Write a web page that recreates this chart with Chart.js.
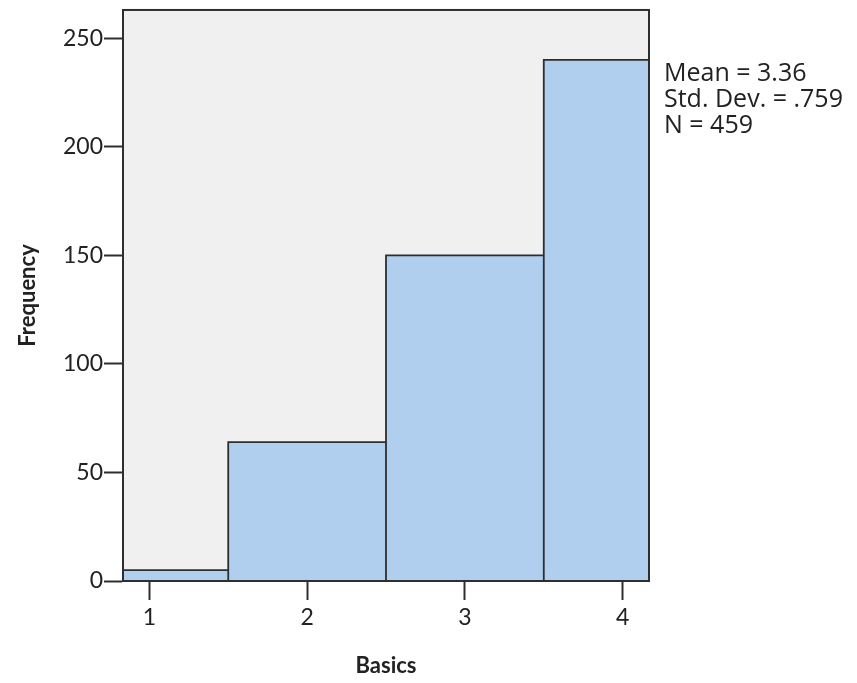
<!DOCTYPE html>
<html>
<head>
<meta charset="utf-8">
<script src="https://cdn.jsdelivr.net/npm/chart.js@4/dist/chart.umd.min.js"></script>
<style>
  html,body{margin:0;padding:0;background:#fff}
  #wrap{width:857px;height:683px;position:relative}
</style>
</head>
<body>
<div id="wrap"><canvas id="hist"></canvas></div>
<script>
(function(){
  'use strict';

  /* ── Histogram data ── */
  const scoreValues=[1,2,3,4];
  const frequencies=[5,64,150,240];
  const binEdges=[0.833,1.5,2.5,3.5,4.167];
  const xTicks=[1,2,3,4];
  const yTicks=[0,50,100,150,200,250];
  const yMax=263;

  /* summary stats from the counts */
  const n=frequencies.reduce((a,b)=>a+b,0);
  const mean=scoreValues.reduce((s,v,i)=>s+v*frequencies[i],0)/n;
  const ss=scoreValues.reduce((s,v,i)=>s+frequencies[i]*(v-mean)*(v-mean),0);
  const sd=Math.sqrt(ss/(n-1));
  const statLines=[
    'Mean = '+mean.toFixed(2),
    'Std. Dev. = '+sd.toFixed(3).replace(/^0/,''),
    'N = '+n
  ];

  /* outline of the bars: up, across, back down to 0 at each bin */
  const outline=[];
  frequencies.forEach((f,i)=>{
    outline.push({x:binEdges[i],y:0});
    outline.push({x:binEdges[i],y:f});
    outline.push({x:binEdges[i+1],y:f});
    outline.push({x:binEdges[i+1],y:0});
  });

  const ink='#2e2e2e';
  const tickFont={family:'Lato',size:23,lineHeight:0.78};
  const titleFont={family:'Lato',size:22,weight:'bold'};

  /* plot background + frame, and the stats box at the right */
  const frame={
    id:'frame',
    beforeDatasetsDraw(chart){
      const {ctx,chartArea:a}=chart;
      ctx.save();
      ctx.fillStyle='#f0f0f0';
      ctx.fillRect(a.left,a.top,a.right-a.left,a.bottom-a.top);
      ctx.restore();
    },
    afterDraw(chart){
      const {ctx,chartArea:a}=chart;
      ctx.save();
      ctx.strokeStyle=ink;
      ctx.lineWidth=2;
      ctx.strokeRect(a.left,a.top,a.right-a.left,a.bottom-a.top);
      ctx.fillStyle='#222';
      ctx.font='25px "Open Sans"';
      ctx.textBaseline='middle';
      statLines.forEach((t,i)=>ctx.fillText(t,a.right+15,a.top+64+i*26));
      ctx.restore();
    }
  };

  new Chart(document.getElementById('hist'),{
    type:'scatter',
    data:{
      datasets:[{
        data:outline,
        showLine:true,
        fill:'origin',
        backgroundColor:'#b0cfee',
        borderColor:ink,
        borderWidth:1.8,
        pointRadius:0,
        tension:0
      }]
    },
    options:{
      responsive:true,maintainAspectRatio:false,animation:false,
      layout:{padding:{left:0,top:0,right:208,bottom:0}},
      plugins:{legend:{display:false},tooltip:{enabled:false}},
      scales:{
        x:{
          type:'linear',min:binEdges[0],max:binEdges[binEdges.length-1],
          afterBuildTicks:s=>{s.ticks=xTicks.map(v=>({value:v}))},
          afterFit:s=>{s.height=102},
          grid:{drawOnChartArea:false,tickLength:19,tickColor:ink,tickWidth:2},
          border:{color:ink,width:2},
          ticks:{color:'#222',font:{family:'Lato',size:23},padding:4,maxRotation:0},
          title:{display:true,text:'Basics',color:'#222',font:titleFont,padding:{top:18}}
        },
        y:{
          type:'linear',min:0,max:yMax,
          afterBuildTicks:s=>{s.ticks=yTicks.map(v=>({value:v}))},
          afterFit:s=>{s.width=123},
          grid:{drawOnChartArea:false,tickLength:19,tickColor:ink,tickWidth:2},
          border:{color:ink,width:2},
          ticks:{color:'#222',font:tickFont,padding:1},
          title:{display:true,text:'Frequency',color:'#222',font:titleFont,padding:{top:15,bottom:0}}
        }
      }
    },
    plugins:[frame]
  });
})();
</script>
</body>
</html>
